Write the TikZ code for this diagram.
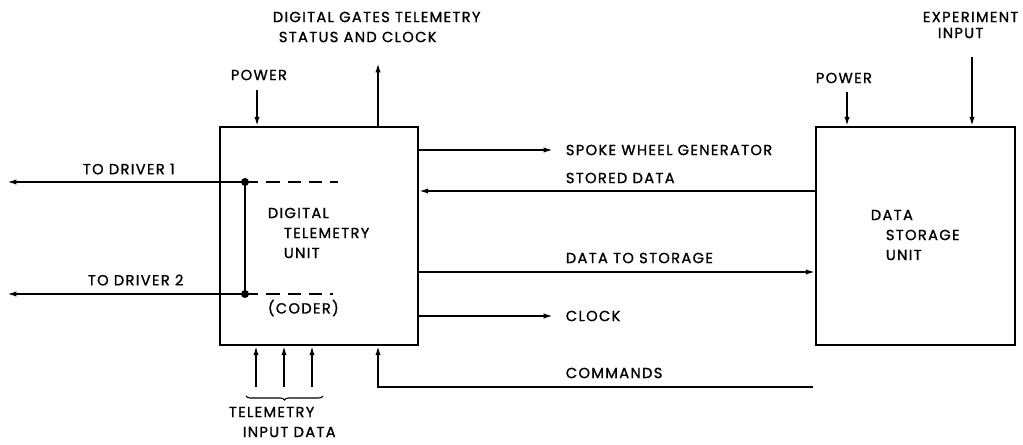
\documentclass[tikz,border=0pt]{standalone}
\usepackage{fontspec}
\setmainfont{Poppins}[LetterSpace=9, FakeBold=1.2]
\usetikzlibrary{arrows.meta,positioning,decorations.pathreplacing}

\begin{document}
\begin{tikzpicture}[x=0.75pt,y=-0.75pt,
    font=\fontsize{11}{13}\selectfont,
    line width=1.3pt,
    >={Latex[length=7pt,width=4pt]},
    unitbox/.style={rectangle, draw, minimum width=148.5pt, minimum height=163.5pt, inner sep=0pt},
    lbl/.style={anchor=west, inner sep=0pt}]
    \useasboundingbox (0,0) rectangle (1023,445);

    % the two units
    \node (dtu) [unitbox] at (319,236) {};
    \node (dsu) [unitbox, minimum width=149.25pt] at (915.5,236) {};

    \node (dtu1) [lbl] at (267,213) {DIGITAL};
    \node (dtu2) [lbl] at (283,233) {TELEMETRY};
    \node (dtu3) [lbl] at (283,253) {UNIT};
    \node (coder) [lbl] at (267,308) {(CODER)};
    \node (dsu1) [lbl] at (870,215) {DATA};
    \node (dsu2) [lbl] at (885,235) {STORAGE};
    \node (dsu3) [lbl] at (885,255) {UNIT};

    % labels
    \node (gates1) [lbl] at (272,17) {DIGITAL GATES TELEMETRY};
    \node (gates2) [lbl] at (278,37) {STATUS AND CLOCK};
    \node (pwr1) [lbl] at (230,75) {POWER};
    \node (pwr2) [lbl] at (815,78) {POWER};
    \node (exp1) [lbl] at (922,17) {EXPERIMENT};
    \node (exp2) [lbl] at (937,33) {INPUT};
    \node (drv1) [lbl] at (82,169) {TO DRIVER 1};
    \node (drv2) [lbl] at (87,280) {TO DRIVER 2};
    \node (swg) [lbl] at (565,150) {SPOKE WHEEL GENERATOR};
    \node (stored) [lbl] at (565,178) {STORED DATA};
    \node (tostore) [lbl] at (565,258) {DATA TO STORAGE};
    \node (clock) [lbl] at (565,316) {CLOCK};
    \node (cmds) [lbl] at (565,373) {COMMANDS};
    \node (tin1) [lbl] at (228,412) {TELEMETRY};
    \node (tin2) [lbl] at (242,432) {INPUT DATA};

    % top arrows
    \coordinate (p1) at (257,90);
    \coordinate (g1) at (378,63);
    \coordinate (p2) at (847,92);
    \coordinate (e1) at (972,57);
    \draw [->] (p1) -- (p1 |- dtu.north);
    \draw [->] (g1 |- dtu.north) -- (g1);
    \draw [->] (p2) -- (p2 |- dsu.north);
    \draw [->] (e1) -- (e1 |- dsu.north);

    % drivers
    \coordinate (j1) at (245,182);
    \coordinate (j2) at (245,294);
    \coordinate (d1) at (7,182);
    \coordinate (d2) at (7,294);
    \coordinate (k1) at (338,182);
    \coordinate (k2) at (333,294);
    \draw [->] (j1) -- (d1);
    \draw [->] (j2) -- (d2);
    \draw (j1) -- (j2);
    \draw [dash pattern=on 10pt off 6pt] (j1) -- (k1);
    \draw [dash pattern=on 10pt off 6pt] (j2) -- (k2);
    \fill (j1) circle (3pt);
    \fill (j2) circle (3pt);

    % between the units
    \coordinate (swy) at (553,150);
    \coordinate (sdy) at (0,191);
    \coordinate (dsy) at (0,272);
    \coordinate (cky) at (553,316);
    \coordinate (cm) at (378,387);
    \coordinate (cmr) at (813,387);
    \draw [->] (dtu.east |- swy) -- (swy);
    \draw [->] (dsu.west |- sdy) -- (dtu.east |- sdy);
    \draw [->] (dtu.east |- dsy) -- (dsu.west |- dsy);
    \draw [->] (dtu.east |- cky) -- (cky);
    \draw [->] (cmr) -- (cm) -- (cm |- dtu.south);

    % telemetry inputs
    \foreach \x [count=\i] in {256,284,312} {
        \coordinate (ti\i) at (\x,387);
        \draw [->] (ti\i) -- (ti\i |- dtu.south);
    }
    \coordinate (b1) at (246,396);
    \coordinate (b2) at (323,396);
    \draw [line width=0.8pt, decorate, decoration={brace, mirror, amplitude=3pt}] (b1) -- (b2);
\end{tikzpicture}
\end{document}
